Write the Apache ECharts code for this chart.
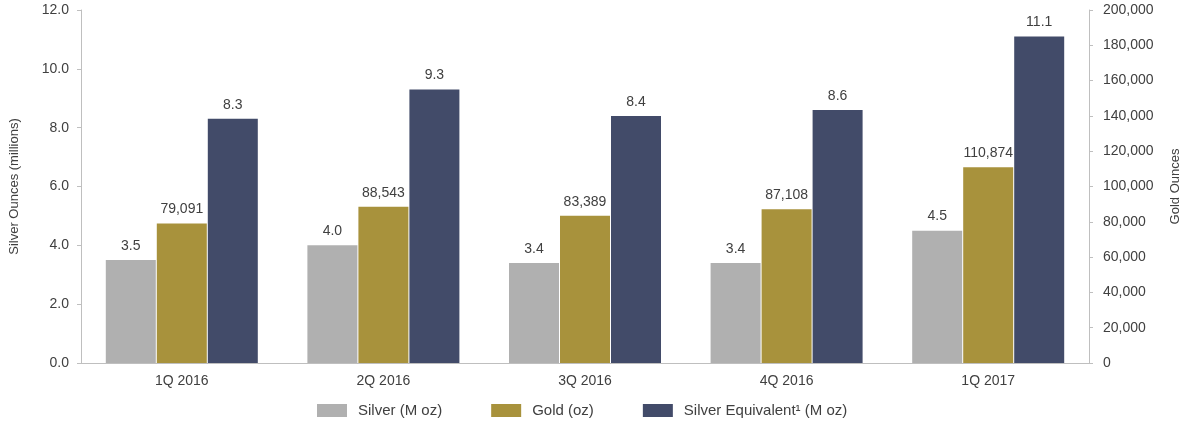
<!DOCTYPE html>
<html><head><meta charset="utf-8">
<script src="https://cdn.jsdelivr.net/npm/echarts@6/dist/echarts.min.js"></script>
<style>html,body{margin:0;padding:0;background:#fff}#c{width:1185px;height:431px}</style>
</head><body><div id="c"></div>
<script>
const categories = ['1Q 2016','2Q 2016','3Q 2016','4Q 2016','1Q 2017'];
const silver = [3.5, 4.0, 3.4, 3.4, 4.5];
const gold = [79091, 88543, 83389, 87108, 110874];
const silverEq = [8.3, 9.3, 8.4, 8.6, 11.1];
const seriesNames = ['Silver (M oz)', 'Gold (oz)', 'Silver Equivalent\u00B9 (M oz)'];

const FONT = "'Liberation Sans', Arial, sans-serif";
const TXT = '#404040';
const AX = '#bfbfbf';
const fmtComma = v => String(v).replace(/\B(?=(\d{3})+(?!\d))/g, ',');

const chart = echarts.init(document.getElementById('c'));
const lbl = f => ({show:true, position:'top', distance:7, color:TXT, fontSize:14, fontFamily:FONT, formatter:f});
chart.setOption({
  animation:false,
  textStyle:{fontFamily:FONT},
  grid:{left:81, right:96, top:10, bottom:68, outerBoundsMode:'none', containLabel:false},
  legend:{
    top:398, left:312, itemWidth:30, itemHeight:13, itemGap:49, icon:'rect',
    textStyle:{color:TXT, fontSize:15, fontFamily:FONT, padding:[0,0,0,6]},
    data:seriesNames
  },
  xAxis:{
    type:'category', data:categories,
    axisLine:{lineStyle:{color:AX}}, axisTick:{show:false},
    axisLabel:{color:TXT, fontSize:14, fontFamily:FONT, margin:11}
  },
  yAxis:[{
    type:'value', min:0, max:12, interval:2, position:'left',
    name:'Silver Ounces (millions)', nameLocation:'middle', nameGap:60, nameRotate:90,
    nameTextStyle:{color:TXT, fontSize:13, fontFamily:FONT},
    axisLine:{show:true, lineStyle:{color:AX}}, axisTick:{show:true, length:4, lineStyle:{color:AX}},
    splitLine:{show:false},
    axisLabel:{color:TXT, fontSize:14, fontFamily:FONT, margin:12, formatter:v=>v.toFixed(1)}
  },{
    type:'value', min:0, max:200000, interval:20000, position:'right',
    name:'Gold Ounces', nameLocation:'middle', nameGap:80, nameRotate:90,
    nameTextStyle:{color:TXT, fontSize:13, fontFamily:FONT},
    axisLine:{show:true, lineStyle:{color:AX}}, axisTick:{show:true, length:4, lineStyle:{color:AX}},
    splitLine:{show:false},
    axisLabel:{color:TXT, fontSize:14, fontFamily:FONT, margin:14, formatter:fmtComma}
  }],
  series:[
    {name:seriesNames[0], type:'bar', data:silver, yAxisIndex:0, barWidth:50, barGap:'2%',
     itemStyle:{color:'#b0b0b0'}, label:lbl(p=>p.value.toFixed(1))},
    {name:seriesNames[1], type:'bar', data:gold, yAxisIndex:1, barWidth:50, barGap:'2%',
     itemStyle:{color:'#a8923c'}, label:lbl(p=>fmtComma(p.value))},
    {name:seriesNames[2], type:'bar', data:silverEq, yAxisIndex:0, barWidth:50, barGap:'2%',
     itemStyle:{color:'#424b69'}, label:lbl(p=>p.value.toFixed(1))}
  ]
});
</script></body></html>
